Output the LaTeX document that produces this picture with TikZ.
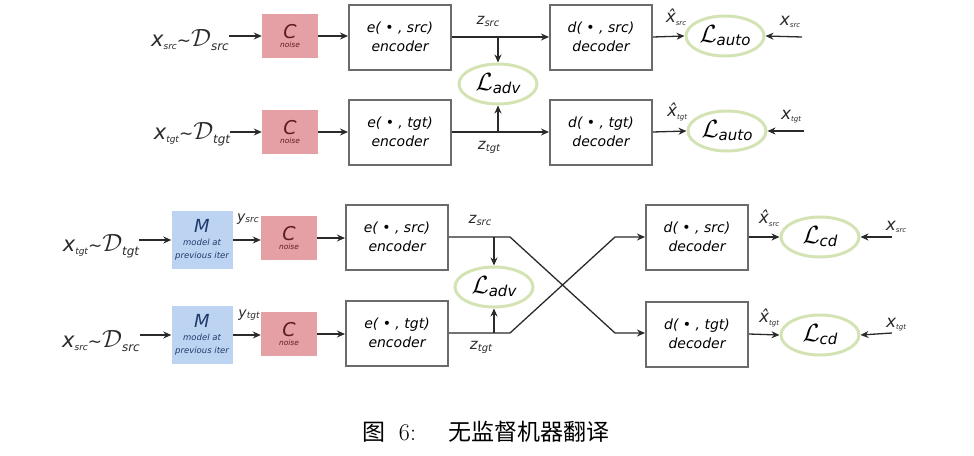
\documentclass[tikz,border=0pt]{standalone}
\usepackage{amsmath}
\usepackage{fontspec}
\setsansfont{DejaVu Sans}
\newfontfamily\cjk{Noto Sans CJK SC}
\usetikzlibrary{arrows.meta, positioning, shapes.geometric}
\definecolor{noisered}{HTML}{E5A0A6}
\definecolor{noisetext}{HTML}{5A1E22}
\definecolor{modelblue}{HTML}{BDD3F2}
\definecolor{modeltext}{HTML}{1F3A6B}
\definecolor{lossgreen}{HTML}{D3E3B4}
\definecolor{boxgray}{HTML}{6B6B6B}
\definecolor{inkgray}{HTML}{2A2A2A}

\newcommand{\fs}[1]{\fontsize{#1}{#1}\selectfont}
\newcommand{\srclabel}[2]{{\fs{21}x}\raisebox{-3pt}{\fs{9}#1}{\fs{17}\textasciitilde}{\fs{28}$\mathcal{D}$}\raisebox{-4pt}{\fs{12}#2}}
\newcommand{\lossname}[1]{{\fs{24}$\mathcal{L}$}\raisebox{-3pt}{\fs{15}#1}}
\newcommand{\hatx}[1]{{\fs{17}\^{x}}\raisebox{-3pt}{\fs{7}#1}}
\newcommand{\plainx}[1]{{\fs{17}x}\raisebox{-2pt}{\fs{7}#1}}
\newcommand{\zvar}[1]{{\fs{15}z}\raisebox{-2pt}{\fs{10}#1}}
\newcommand{\yvar}[1]{{\fs{14}y}\raisebox{-1pt}{\fs{9}#1}}
\newcommand{\noisetxt}{{\fs{19}C}\\[-3pt]{\fs{7.5}noise}}
\newcommand{\modeltxt}{{\fs{18}M}\\[1pt]{\fs{8.5}model at}\\[1pt]{\fs{8.5}previous iter}}

\tikzset{
  stagebox/.style={draw=boxgray, line width=2pt, fill=white, minimum width=102pt,
    minimum height=65pt, align=center, font=\sffamily\itshape\fs{14}, inner sep=0pt,
    execute at begin node=\setlength{\baselineskip}{19pt}},
  noisebox/.style={fill=noisered, minimum width=56pt, minimum height=44pt, align=center,
    text=noisetext, font=\sffamily\itshape, inner sep=0pt},
  modelbox/.style={fill=modelblue, minimum width=61pt, minimum height=58pt, align=center,
    text=modeltext, font=\sffamily\itshape, inner sep=0pt},
  lossell/.style={ellipse, draw=lossgreen, line width=3pt, minimum width=78pt,
    minimum height=40pt, inner sep=0pt, font=\sffamily\itshape},
  lbl/.style={font=\sffamily\itshape, inner sep=0pt, text=inkgray},
  flow/.style={->, line width=1.3pt, draw=inkgray}
}

\begin{document}
\begin{tikzpicture}[x=1pt, y=-1pt, >={Stealth[length=8pt, width=7pt]}]
\useasboundingbox (0,0) rectangle (974,455);

%% Top: denoising auto-encoding
% row src
\node[lbl] (in1) at (190,40) {\srclabel{src}{src}};
\node[noisebox] (c1) at (290,36) {\noisetxt};
\node[stagebox] (e1) at (400,37) {e( \textbullet\ , src)\\encoder};
\node[stagebox] (d1) at (601,37) {d( \textbullet\ , src)\\decoder};
\node[lossell] (la1) at (725,36) {\lossname{auto}};
\node[lbl] (xh1) at (676,17) {\hatx{src}};
\node[lbl] (xr1) at (790,22) {\plainx{src}};
\coordinate (xs1) at (802,37);
\node[lbl] (z1) at (488,21) {\zvar{src}};

% row tgt
\node[lbl] (in2) at (192,134) {\srclabel{tgt}{tgt}};
\node[noisebox] (c2) at (290,132) {\noisetxt};
\node[stagebox] (e2) at (400,132) {e( \textbullet\ , tgt)\\encoder};
\node[stagebox] (d2) at (601,132) {d( \textbullet\ , tgt)\\decoder};
\node[lossell] (la2) at (727,131) {\lossname{auto}};
\node[lbl] (xh2) at (677,112) {\hatx{tgt}};
\node[lbl] (xr2) at (791,117) {\plainx{tgt}};
\coordinate (xs2) at (804,131);
\node[lbl] (z2) at (489,147) {\zvar{tgt}};

% adversarial loss
\node[lossell] (adv1) at (498,84) {\lossname{adv}};

\draw[flow] (in1.east |- c1) -- (c1.west);
\draw[flow] (c1.east) -- (e1.west |- c1);
\draw[flow] (e1.east) -- (d1.west);
\draw[flow] (adv1 |- e1.east) -- (adv1.north);
\draw[flow] (d1.east) -- (la1.west);
\draw[flow] (xs1) -- (la1.east);
\draw[flow] (in2.east |- c2) -- (c2.west);
\draw[flow] (c2.east) -- (e2.west);
\draw[flow] (e2.east) -- (d2.west);
\draw[flow] (adv1 |- e2.east) -- (adv1.south);
\draw[flow] (d2.east) -- (la2.west);
\draw[flow] (xs2) -- (la2.east);

%% Bottom: cross-domain training
% row 3
\node[lbl] (in3) at (101,246) {\srclabel{tgt}{tgt}};
\node[modelbox] (m3) at (202,240) {\modeltxt};
\node[lbl] (y3) at (248,219) {\yvar{src}};
\node[noisebox] (c3) at (289,238) {\noisetxt};
\node[stagebox] (e3) at (397,237) {e( \textbullet\ , src)\\encoder};
\node[stagebox] (d3) at (697,237) {d( \textbullet\ , src)\\decoder};
\node[lossell] (lc3) at (820,237) {\lossname{cd}};
\node[lbl] (xh3) at (769,218) {\hatx{src}};
\node[lbl] (xr3) at (896,227) {\plainx{src}};
\coordinate (xs3) at (892,237);
\node[lbl] (z3) at (480,220) {\zvar{src}};

% row 4
\node[lbl] (in4) at (101,341) {\srclabel{src}{src}};
\node[modelbox] (m4) at (202,335) {\modeltxt};
\node[lbl] (y4) at (249,315) {\yvar{tgt}};
\node[noisebox] (c4) at (289,334) {\noisetxt};
\node[stagebox] (e4) at (397,333) {e( \textbullet\ , tgt)\\encoder};
\node[stagebox] (d4) at (697,334) {d( \textbullet\ , tgt)\\decoder};
\node[lossell] (lc4) at (820,335) {\lossname{cd}};
\node[lbl] (xh4) at (769,318) {\hatx{tgt}};
\node[lbl] (xr4) at (896,325) {\plainx{tgt}};
\coordinate (xs4) at (892,333);
\node[lbl] (z4) at (481,347) {\zvar{tgt}};

\node[lossell] (adv2) at (494,287) {\lossname{adv}};

% crossing
\coordinate (k3) at (510,237);
\coordinate (k4) at (510,333);
\coordinate (q3) at (615,237);
\coordinate (q4) at (615,333);

\draw[flow] (in3.east |- m3) -- (m3.west);
\draw[flow] (m3.east) -- (c3.west |- m3);
\draw[flow] (c3.east) -- (e3.west |- c3);
\draw[flow] (e3.east) -- (k3) -- (q4) -- (d4.west |- q4);
\draw[flow] (adv2 |- e3.east) -- (adv2.north);
\draw[flow] (d3.east) -- (lc3.west);
\draw[flow] (xs3) -- (lc3.east);
\draw[flow] (in4.east |- m4) -- (m4.west);
\draw[flow] (m4.east) -- (c4.west |- m4);
\draw[flow] (c4.east) -- (e4.west |- c4);
\draw[flow] (e4.east) -- (k4) -- (q3) -- (d3.west |- q3);
\draw[flow] (adv2 |- e4.east) -- (adv2.south);
\draw[flow] (d4.east) -- (lc4.west);
\draw[flow] (xs4) -- (lc4.east);

% caption
\node[inner sep=0pt] (cap) at (486,432) {{\cjk\fs{23}图}\hspace{13pt}{\fs{24}6:}\hspace{32pt}{\cjk\fs{23}无监督机器翻译}};

\end{tikzpicture}
\end{document}
